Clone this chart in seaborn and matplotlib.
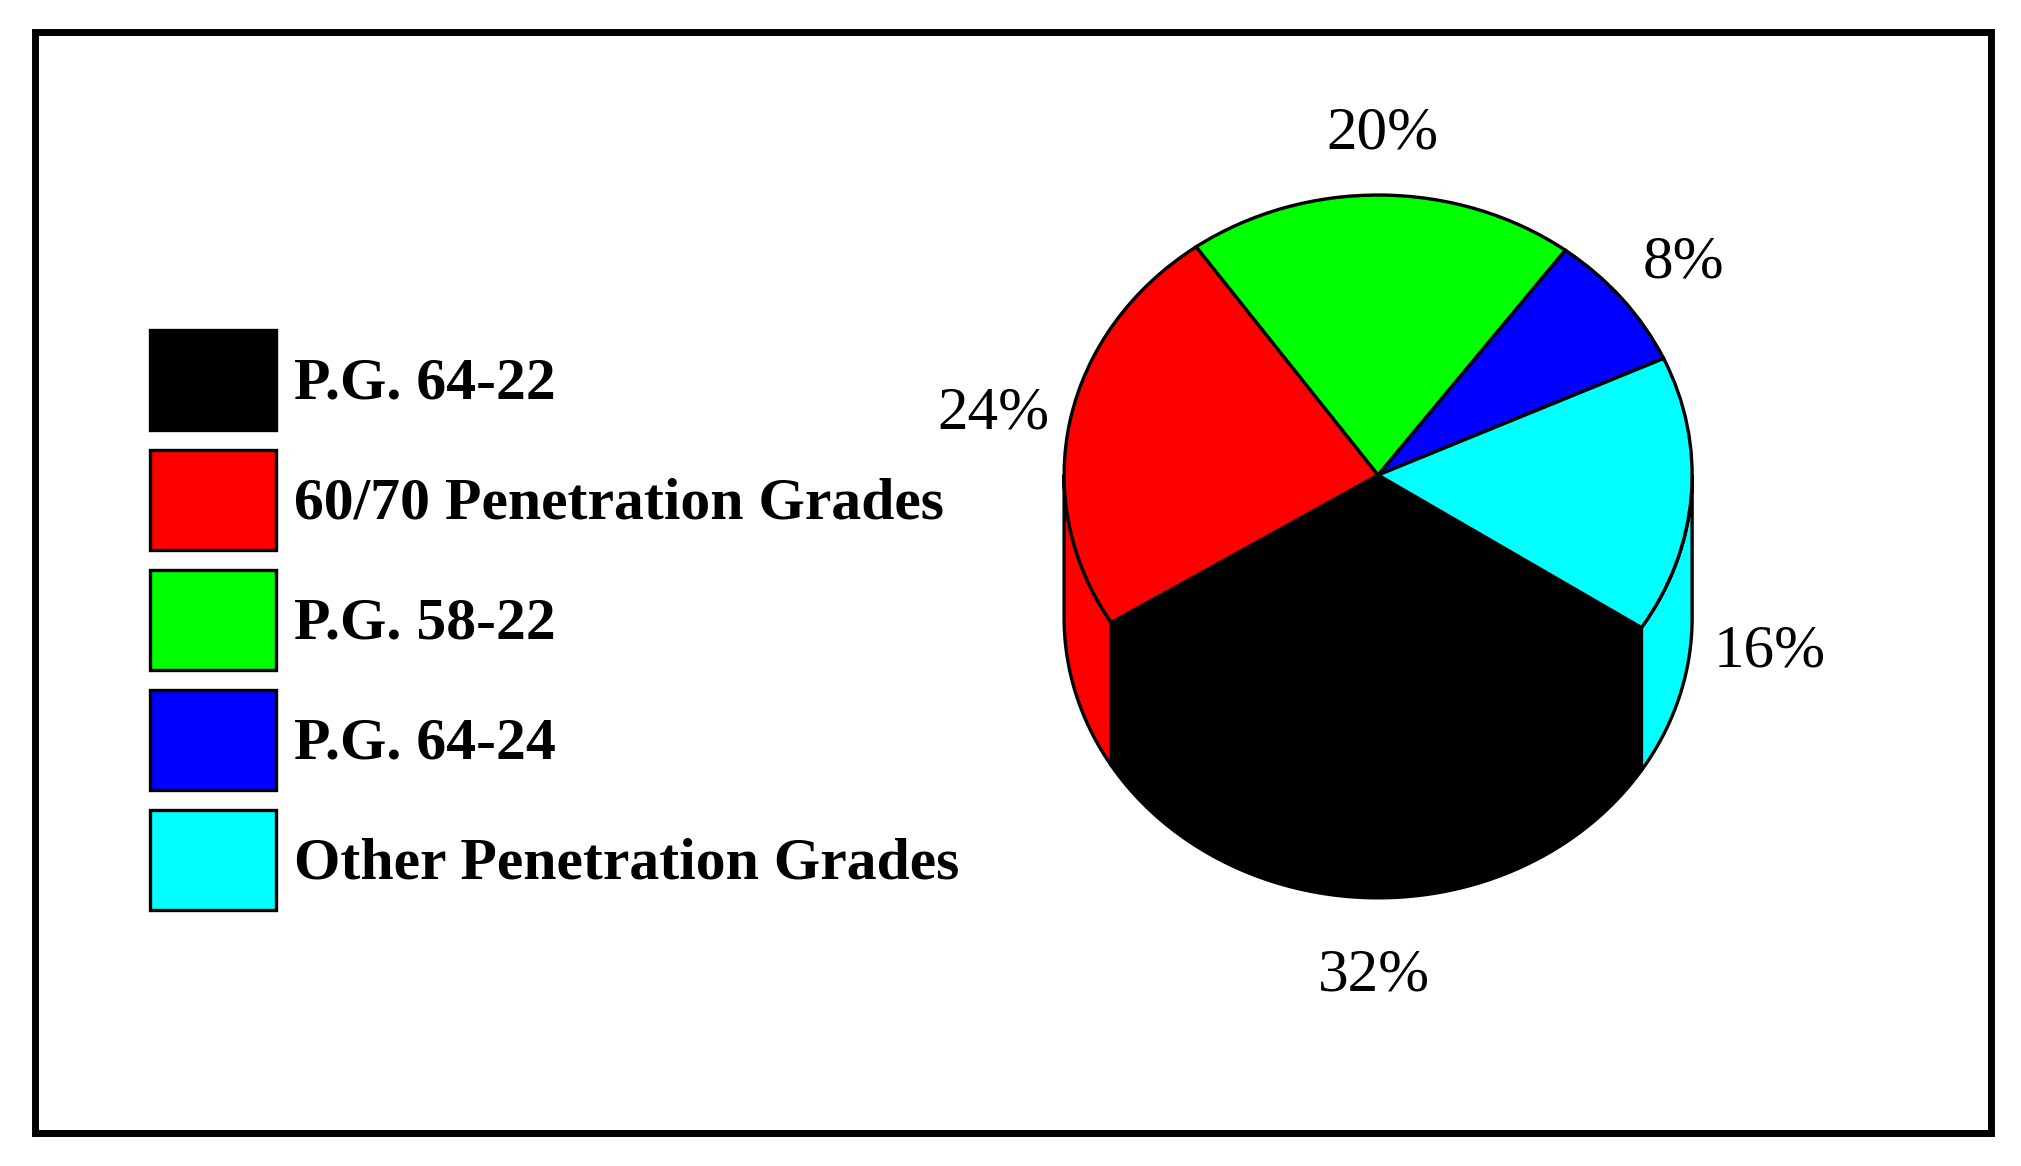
import numpy as np
import matplotlib
matplotlib.use("Agg")
import matplotlib.pyplot as plt
from matplotlib.patches import Polygon, Rectangle
import seaborn as sns

# ---- data ----
labels = ["P.G. 64-22", "60/70 Penetration Grades", "P.G. 58-22",
          "P.G. 64-24", "Other Penetration Grades"]
shares = [32, 24, 20, 8, 16]
colors = ["#000000", "#FF0000", "#00FF00", "#0000FF", "#00FFFF"]

# ---- style / geometry ----
START = 327.0      # start angle of first slice (degrees), clockwise
DEPTH = 0.51       # extrusion depth of the 3D pie (data units)
LABEL_R = 1.25     # label radius
W, H = 2021, 1166
EDGE_LW = 2.4

sns.set_theme(style="white")
plt.rcParams['font.family'] = ['Liberation Serif', 'DejaVu Serif']
plt.rcParams['text.color'] = 'black'

fig = plt.figure(figsize=(W / 100, H / 100), dpi=100)
fig.patch.set_facecolor("white")
ax = fig.add_axes([0.4333, 0.0883, 0.4972, 0.8645])

total = float(sum(shares))
bounds = START - np.cumsum([0] + shares) * 360.0 / total

# side (extruded) faces for front-facing part of each slice
for i, c in enumerate(colors):
    a_hi, a_lo = bounds[i], bounds[i + 1]
    for r0, r1 in [(180.0, 360.0), (-180.0, 0.0)]:
        lo, hi = max(a_lo, r0), min(a_hi, r1)
        if hi > lo:
            t = np.radians(np.linspace(lo, hi, 200))
            top = np.column_stack([np.cos(t), np.sin(t)])
            bot = np.column_stack([np.cos(t), np.sin(t) - DEPTH])[::-1]
            ax.add_patch(Polygon(np.vstack([top, bot]), closed=True,
                                 facecolor=c, edgecolor="black",
                                 linewidth=EDGE_LW, joinstyle="round"))

# top face
wedges, _ = ax.pie(shares, colors=colors, startangle=START, counterclock=False,
                   radius=1.0, wedgeprops=dict(edgecolor="black",
                                               linewidth=EDGE_LW))

# percentage labels
for i, v in enumerate(shares):
    m = np.radians((bounds[i] + bounds[i + 1]) / 2.0)
    x = LABEL_R * np.cos(m)
    y = LABEL_R * np.sin(m) - (DEPTH if np.sin(m) < 0 else 0.0)
    ax.annotate(f"{v}%", xy=(x, y), xytext=(0, -6), textcoords="offset points",
                ha="center", va="center", fontsize=44, color="black")

ax.set_aspect("auto")
ax.set_xlim(-1.6, 1.6)
ax.set_ylim(-2.1, 1.5)
ax.axis("off")

# legend
fs = 43
fpx = fs * 100 / 72.0
box_h = 100 / fpx
fig.legend(wedges, labels, loc="upper left",
           bbox_to_anchor=(150 / W, 1 - 330 / H), bbox_transform=fig.transFigure,
           frameon=False, labelcolor="black",
           prop=dict(family=['Liberation Serif', 'DejaVu Serif'],
                     weight="bold", size=fs),
           handlelength=126 / fpx, handleheight=(box_h - 0.245) / 0.65,
           labelspacing=20 / fpx, handletextpad=18 / fpx,
           borderpad=0, borderaxespad=0)

# outer frame
fig.add_artist(Rectangle((35 / W, 1 - 1133 / H), (1991 - 35) / W, (1133 - 32) / H,
                         transform=fig.transFigure, fill=False,
                         linewidth=5, edgecolor="black"))

fig.savefig("out.png", dpi=100, facecolor="white")
